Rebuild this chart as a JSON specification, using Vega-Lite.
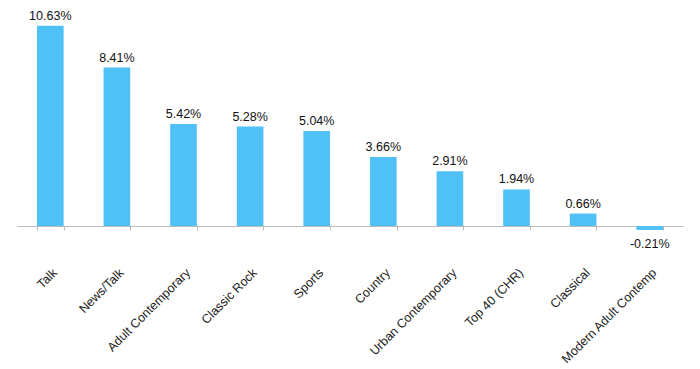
{
  "$schema": "https://vega.github.io/schema/vega-lite/v6.json",
  "width": 666,
  "height": 226,
  "autosize": {"type": "none"},
  "padding": {"left": 17, "top": 0, "right": 17, "bottom": 143},
  "background": "white",
  "config": {
    "view": {"stroke": null},
    "font": "Liberation Sans",
    "locale": {"number": {"decimal": ".", "thousands": ",", "grouping": [3], "currency": ["$", ""], "minus": "-"}}
  },
  "data": {"values": [
    {"format": "Talk", "value": 0.1063},
    {"format": "News/Talk", "value": 0.0841},
    {"format": "Adult Contemporary", "value": 0.0542},
    {"format": "Classic Rock", "value": 0.0528},
    {"format": "Sports", "value": 0.0504},
    {"format": "Country", "value": 0.0366},
    {"format": "Urban Contemporary", "value": 0.0291},
    {"format": "Top 40 (CHR)", "value": 0.0194},
    {"format": "Classical", "value": 0.0066},
    {"format": "Modern Adult Contemp", "value": -0.0021}
  ]},
  "encoding": {
    "x": {"field": "format", "type": "nominal", "sort": null,
      "scale": {"paddingInner": 0.6, "paddingOuter": 0.3},
      "axis": {"title": null, "labelAngle": -45, "labelFontSize": 12.5, "labelColor": "#222",
        "domainColor": "#bbb", "tickColor": "#bbb", "tickSize": 4, "tickBand": "extent",
        "labelPadding": 36, "labelFont": "Liberation Sans"}},
    "y": {"field": "value", "type": "quantitative", "scale": {"domain": [0, 0.12], "nice": false, "zero": false}, "axis": null}
  },
  "layer": [
    {"mark": {"type": "bar", "color": "#4FC1F7", "clip": false}},
    {"transform": [{"filter": "datum.value >= 0"}],
      "mark": {"type": "text", "baseline": "bottom", "dy": -3, "fontSize": 12.5, "color": "#111"},
      "encoding": {"text": {"field": "value", "type": "quantitative", "format": ".2%"}}},
    {"transform": [{"filter": "datum.value < 0"}],
      "mark": {"type": "text", "baseline": "top", "dy": 8, "fontSize": 12.5, "color": "#111"},
      "encoding": {"text": {"field": "value", "type": "quantitative", "format": ".2%"}}}
  ]
}
